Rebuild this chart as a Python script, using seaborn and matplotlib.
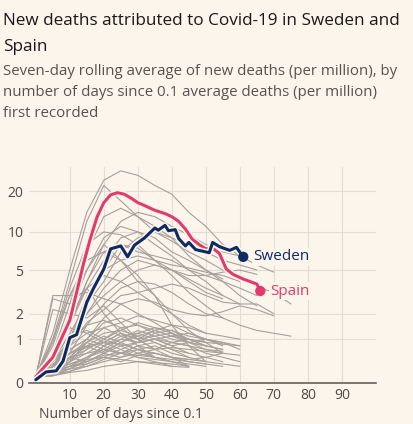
import numpy as np
import pandas as pd
import seaborn as sns
import matplotlib.pyplot as plt
import matplotlib.patheffects as pe

# Spain and Sweden: days since 0.1 deaths/million, 7-day avg deaths per million
spain_days = [0, 2, 5, 7, 10, 12, 14, 16, 18, 20, 22, 24, 26, 28, 30, 32, 35, 38, 40,
              42, 44, 46, 48, 50, 52, 54, 56, 58, 61, 63, 65, 66]
spain_vals = [0.1, 0.25, 0.5, 0.9, 1.7, 3.2, 5.6, 8.8, 12.9, 16.5, 18.8, 19.5, 19.0, 17.8,
              16.5, 15.7, 14.5, 13.7, 13.0, 12.0, 10.5, 8.8, 8.0, 7.4, 7.5, 6.8, 5.1, 4.6,
              4.2, 4.0, 3.8, 3.3]
sweden_days = [0, 3, 6, 8, 10, 12, 15, 17, 20, 22, 25, 27, 29, 32, 35, 36, 38, 39, 41,
               42, 44, 45, 47, 51, 52, 54, 57, 59, 61]
sweden_vals = [0.05, 0.19, 0.21, 0.41, 1.05, 1.15, 2.6, 3.5, 5.1, 7.4, 7.8, 6.4, 7.9, 9.0,
               10.7, 10.3, 11.2, 10.2, 10.4, 8.9, 7.8, 8.3, 7.3, 6.9, 8.3, 7.7, 7.2, 7.6, 6.4]

# other countries, one value every 5 days from day 0
others_high = [
    [0.1, 1.2, 5, 14, 24, 28, 26, 22, 19, 14, 11, 8, 6.5, 5.5, 4.8],
    [0.1, 1, 4, 12, 22, 17, 13, 10, 8.5, 7, 6, 5, 4.2, 3.6, 3.2, 2.5],
    [0.1, 0.4, 1.5, 4, 8, 12, 14, 13, 11, 9.5, 8, 7, 6.5],
    [0.1, 0.6, 2.5, 7, 13, 15, 13, 11, 9, 6.5, 5, 4, 3, 2.4],
    [0.1, 0.9, 3.5, 8, 10, 9.5, 8, 6, 4.5, 3.2, 2.4, 1.8],
    [0.1, 0.5, 1.5, 3.5, 6, 9, 10, 8, 6.5, 5, 4, 3],
    [0.1, 0.4, 1.2, 2.5, 4, 7, 9, 10, 9, 8, 7, 6, 5.5, 5],
]
others_mid = [
    [0.1, 1, 3, 3.2, 2.8, 2.5, 2, 1.6, 1.2, 0.9],
    [0.1, 0.8, 3, 6, 7, 6, 4.5, 3, 2, 1.3, 0.9, 0.6],
    [0.1, 0.3, 1, 3, 5, 6, 6.5, 6, 5.5, 5.2, 4.8, 4.5, 4],
    [0.1, 0.5, 1.8, 3.5, 4.5, 4, 3.2, 2.5, 2, 1.5, 1.2],
    [0.1, 0.2, 0.6, 1.5, 2.5, 3.5, 4, 3.8, 3.2, 2.5, 2, 1.8, 1.5, 1.3, 1.2, 1.1],
    [0.1, 3, 3, 5, 8, 6, 4, 3, 1.5, 0.8, 0.4],
    [0.1, 2.8, 2.5, 3.5, 2, 1.2, 0.8, 0.5],
    [0.1, 2.2, 2.0, 1.8, 2.4, 1.6, 1.0, 0.7],
    [0.1, 0.4, 1, 2, 3, 4, 5, 5.5, 5, 4.5, 4.5, 4.8, 5, 4.6],
    [0.1, 0.3, 0.8, 1.6, 2.2, 3, 3.2, 3.5, 3.8, 3.5, 3, 2.6, 2.5, 2.5, 2],
    [0.1, 0.2, 0.5, 1, 1.8, 2.5, 2.8, 2.6, 2.2, 2, 1.9, 2.1, 2.4, 2.2, 1.9],
    [0.1, 0.3, 0.9, 2, 3.5, 5, 6, 5.5, 5, 4.2, 3.5, 3, 2.5],
    [0.1, 0.5, 1.5, 4, 7, 8, 7.5, 6, 5, 4, 3.2, 2.8],
    [0.1, 0.6, 2, 5, 9, 11, 10, 9, 7, 6, 5, 4.2],
    [0.1, 0.3, 1, 2.5, 5, 8, 7, 6.5, 6, 5, 4.5, 4, 3.5, 3],
]
others_low = [
    [0.1, 0.3, 0.6, 0.9, 1.2, 1.3, 1.1, 0.9, 0.7, 0.5, 0.4],
    [0.1, 0.2, 0.4, 0.7, 1.0, 1.4, 1.5, 1.3, 1.1, 0.9, 0.8, 0.7],
    [0.1, 0.15, 0.3, 0.5, 0.8, 1.1, 1.2, 1.4, 1.3, 1.1, 1.0, 0.9, 0.8],
    [0.1, 0.4, 0.9, 1.5, 1.7, 1.4, 1.0, 0.7, 0.5, 0.3],
    [0.1, 0.2, 0.3, 0.4, 0.6, 0.8, 0.9, 1.0, 0.9, 0.8, 0.6, 0.5, 0.4],
    [0.1, 0.3, 0.5, 0.6, 0.7, 0.6, 0.5, 0.45, 0.4, 0.3],
    [0.1, 0.12, 0.2, 0.35, 0.5, 0.7, 0.9, 1.0, 1.1, 1.0, 0.9, 0.85, 0.8],
    [0.1, 0.5, 1.1, 1.3, 1.0, 0.8, 0.6, 0.5, 0.4, 0.35, 0.3],
    [0.1, 0.2, 0.25, 0.3, 0.4, 0.5, 0.6, 0.7, 0.75, 0.7, 0.65, 0.6, 0.55],
    [0.1, 0.3, 0.7, 1.0, 1.6, 1.8, 1.5, 1.2, 1.3, 1.0, 0.8],
    [0.1, 0.15, 0.25, 0.4, 0.55, 0.6, 0.55, 0.5, 0.45, 0.4, 0.35, 0.3],
    [0.1, 0.25, 0.45, 0.8, 0.9, 1.2, 1.0, 1.1, 0.9, 0.8, 0.7, 0.65],
    [0.1, 0.2, 0.35, 0.45, 0.5, 0.45, 0.4, 0.35, 0.3, 0.28],
    [0.1, 0.35, 0.6, 0.75, 0.9, 0.85, 0.7, 0.6, 0.5, 0.45, 0.4, 0.35, 0.3],
    [0.1, 0.2, 0.5, 0.9, 1.4, 1.6, 1.9, 1.7, 1.5, 1.4, 1.2, 1.1, 1.0],
    [0.1, 0.12, 0.18, 0.22, 0.3, 0.35, 0.4, 0.38, 0.35, 0.3],
    [0.1, 0.2, 0.6, 0.8, 1.1, 0.9, 1.2, 1.0, 0.8, 0.9, 0.7, 0.6],
    [0.1, 0.3, 0.4, 0.9, 0.7, 1.0, 1.3, 1.1, 1.2, 0.9, 0.8],
    [0.1, 0.15, 0.4, 0.6, 0.9, 1.2, 1.0, 1.3, 1.5, 1.2, 1.0, 0.9, 0.7],
    [0.1, 0.5, 0.7, 1.0, 0.8, 0.6, 0.7, 0.5, 0.4],
    [0.1, 0.2, 0.3, 0.5, 0.7, 0.6, 0.8, 0.9, 0.7, 0.6, 0.5, 0.6],
    [0.1, 0.4, 0.8, 1.2, 1.4, 1.1, 0.9, 1.0, 0.8, 0.6],
    [0.1, 0.15, 0.2, 0.3, 0.45, 0.6, 0.8, 0.7, 0.9, 1.0, 0.8, 0.7],
    [0.1, 0.3, 0.5, 0.4, 0.6, 0.5, 0.7, 0.6, 0.5, 0.4, 0.35],
    [0.1, 0.2, 0.5, 0.7, 1.0, 1.3, 1.6, 1.4, 1.2, 1.0, 0.9],
    [0.1, 0.25, 0.35, 0.5, 0.65, 0.9, 1.1, 1.3, 1.1, 1.2, 1.0, 0.85],
    [0.1, 0.6, 1.4, 1.2, 0.9, 0.7, 0.5, 0.4, 0.3],
    [0.1, 0.2, 0.3, 0.35, 0.5, 0.4, 0.55, 0.6, 0.5, 0.45, 0.5, 0.4],
    [0.1, 0.3, 0.6, 0.8, 0.6, 0.9, 0.7, 0.8, 0.6, 0.5],
    [0.1, 0.12, 0.25, 0.45, 0.8, 1.0, 0.9, 1.2, 1.0, 0.9, 1.0, 0.8],
]

y_ticks = [0, 1, 2, 5, 10, 20]
x_ticks = [10, 20, 30, 40, 50, 60, 70, 80, 90]

# long table for the grey lines
rows = []
for i, vals in enumerate(others_high + others_mid + others_low):
    for j, v in enumerate(vals):
        rows.append((i, j * 5, v))
others = pd.DataFrame(rows, columns=["country", "day", "deaths"])

bg = "#fcf5ec"
navy = "#0d2a63"
pink = "#e23a6c"
grey = "#a7a09a"

sns.set_theme(style="white")
plt.rcParams["font.family"] = ["Open Sans", "DejaVu Sans"]

fig = plt.figure(figsize=(4.14, 4.24), dpi=100, facecolor=bg)
ax = fig.add_axes([0.07, 0.097, 0.838, 0.51], facecolor=bg)

sns.lineplot(data=others, x="day", y="deaths", units="country", estimator=None,
             color=grey, lw=0.8, legend=False, sort=False, ax=ax)

halo = [pe.Stroke(linewidth=4.5, foreground=bg), pe.Normal()]
sns.lineplot(x=spain_days, y=spain_vals, color=pink, lw=2.2, path_effects=halo, ax=ax)
sns.lineplot(x=sweden_days, y=sweden_vals, color=navy, lw=2.2, path_effects=halo, ax=ax)
sns.scatterplot(x=[spain_days[-1]], y=[spain_vals[-1]], color=pink, s=55,
                edgecolor="none", zorder=5, ax=ax)
sns.scatterplot(x=[sweden_days[-1]], y=[sweden_vals[-1]], color=navy, s=55,
                edgecolor="none", zorder=5, ax=ax)
box = dict(facecolor=bg, edgecolor="none", pad=1)
ax.annotate("Sweden", (sweden_days[-1], sweden_vals[-1]), xytext=(7, 0),
            textcoords="offset points", va="center", color=navy, fontsize=11, bbox=box)
ax.annotate("Spain", (spain_days[-1], spain_vals[-1]), xytext=(7, 0),
            textcoords="offset points", va="center", color=pink, fontsize=11, bbox=box)

ax.set_yscale("function", functions=(np.log1p, np.expm1))
ax.set_ylim(0, 30)
ax.set_xlim(-2, 100)
ax.set_yticks(y_ticks)
ax.set_yticklabels([str(t) for t in y_ticks])
ax.set_xticks(x_ticks)
ax.set_xticklabels([str(t) for t in x_ticks])
ax.grid(True, color="#e3ddd5", lw=0.8)
ax.tick_params(length=0, labelsize=10, colors="#4d4845", pad=4)
for s in ["top", "right", "left"]:
    ax.spines[s].set_visible(False)
ax.spines["bottom"].set_color("#66605c")
ax.spines["bottom"].set_linewidth(1.2)
ax.set_xlabel("")
ax.set_ylabel("")

# heading and notes
fig.text(0.008, 0.95, "New deaths attributed to Covid-19 in Sweden and",
         fontsize=12.3, color="#1a1817", va="center")
fig.text(0.008, 0.888, "Spain", fontsize=12.3, color="#1a1817", va="center")
fig.text(0.008, 0.832, "Seven-day rolling average of new deaths (per million), by",
         fontsize=10.8, color="#57524e", va="center")
fig.text(0.008, 0.782, "number of days since 0.1 average deaths (per million)",
         fontsize=10.8, color="#57524e", va="center")
fig.text(0.008, 0.732, "first recorded", fontsize=10.8, color="#57524e", va="center")
fig.text(0.095, 0.022, "Number of days since 0.1", fontsize=10, color="#4d4845",
         va="center")

fig.savefig("out.png", dpi=100, facecolor=bg)
